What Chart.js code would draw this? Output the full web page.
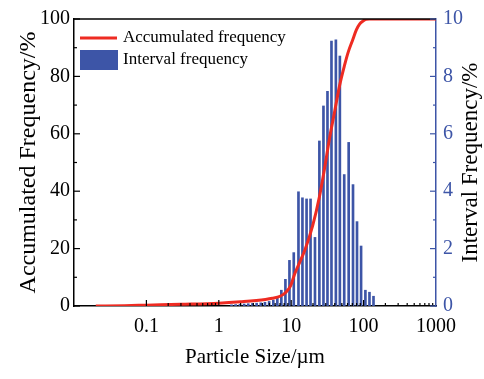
<!DOCTYPE html>
<html>
<head>
<meta charset="utf-8">
<script src="https://cdn.jsdelivr.net/npm/chart.js@4"></script>
<style>
  body { margin: 0; background: #fff; }
</style>
</head>
<body>
<canvas id="psdChart" width="484" height="379"></canvas>
<script>
// interval frequency bars (size in um, value in %)
const binSizes = [1.5, 1.71, 1.96, 2.24, 2.55, 2.92, 3.33, 3.8, 4.34, 4.96,
    5.66, 6.43, 7.31, 8.32, 9.46, 10.85, 12.6, 14.3, 16.3, 18.5, 21.3, 24.5,
    27.9, 31.7, 36.0, 41.4, 47.0, 54.0, 62.2, 71.4, 81.1, 92.3, 105.9, 120.5, 137];
const binFreq = [0.04, 0.05, 0.06, 0.07, 0.08, 0.09, 0.1, 0.11, 0.13, 0.16,
    0.2, 0.3, 0.55, 0.93, 1.59, 1.86, 3.98, 3.77, 3.73, 3.73, 2.39, 5.75,
    6.97, 7.48, 9.23, 9.27, 8.71, 4.58, 5.70, 4.23, 2.94, 2.09, 0.55, 0.48, 0.34];

// accumulated frequency curve
const cumSizes = [0.02, 0.05, 0.1, 0.3, 1, 2, 4.4, 5.5, 7, 8.3, 9.8, 11.1, 13, 15.6, 19.8,
    24.5, 28.7, 33.8, 39.7, 46.6, 54.7, 61, 71.4, 79.4, 88, 98.4, 108, 120, 200, 1000];
const cumFreq = [0, 0.1, 0.3, 0.6, 1.0, 1.5, 2.3, 2.7, 3.4, 4.6, 7, 11, 15, 19.8, 28,
    38, 47.5, 58.4, 67.6, 76.8, 84, 88.3, 93, 96.2, 98.2, 99.3, 99.85, 100, 100, 100];

const xTickLabels = [0.1, 1, 10, 100, 1000];

const RED = '#ee2b22';
const BLUE = '#3d55a7';
const FONT = 'Liberation Serif';

const ctx = document.getElementById('psdChart').getContext('2d');

// inward ticks, frame top line, legend and right title
const decorPlugin = {
    id: 'decor',
    afterDraw(chart) {
        const c = chart.ctx;
        const a = chart.chartArea;
        const sx = chart.scales.x, sy = chart.scales.y, sy1 = chart.scales.y1;
        c.save();
        c.lineWidth = 1.5;
        // top frame
        c.strokeStyle = '#000';
        c.beginPath();
        c.moveTo(a.left, a.top);
        c.lineTo(a.right, a.top);
        c.stroke();
        // x ticks
        c.lineWidth = 1.2;
        for (let d = -1; d <= 2; d++) {
            for (let m = 1; m <= 9; m++) {
                const px = sx.getPixelForValue(m * Math.pow(10, d));
                c.beginPath();
                c.moveTo(px, a.bottom);
                c.lineTo(px, a.bottom - (m === 1 ? 6 : 3));
                c.stroke();
            }
        }
        // left ticks
        for (let v = 0; v <= 100; v += 10) {
            const py = sy.getPixelForValue(v);
            c.beginPath();
            c.moveTo(a.left, py);
            c.lineTo(a.left + (v % 20 === 0 ? 6 : 3), py);
            c.stroke();
        }
        // right ticks
        c.strokeStyle = BLUE;
        for (let v = 0; v <= 10; v += 1) {
            const py = sy1.getPixelForValue(v);
            c.beginPath();
            c.moveTo(a.right, py);
            c.lineTo(a.right - (v % 2 === 0 ? 6 : 3), py);
            c.stroke();
        }
        // legend
        const ds = chart.data.datasets;
        c.font = '17px "' + FONT + '"';
        c.fillStyle = '#000';
        c.textBaseline = 'middle';
        c.strokeStyle = ds[0].borderColor;
        c.lineWidth = 3;
        c.beginPath();
        c.moveTo(a.left + 6, 38);
        c.lineTo(a.left + 43, 38);
        c.stroke();
        c.fillText(ds[0].label, a.left + 49, 38);
        c.fillStyle = ds[1].backgroundColor;
        c.fillRect(a.left + 6, 50, 38, 20);
        c.fillStyle = '#000';
        c.fillText(ds[1].label, a.left + 49, 60);
        // right axis title, reading upward
        c.translate(471, (a.top + a.bottom) / 2);
        c.rotate(-Math.PI / 2);
        c.textAlign = 'center';
        c.font = '23px "' + FONT + '"';
        c.fillText('Interval Frequency/%', 0, 0);
        c.restore();
    }
};

new Chart(ctx, {
    type: 'bar',
    data: {
        datasets: [{
            type: 'line',
            label: 'Accumulated frequency',
            data: cumSizes.map((s, i) => ({x: s, y: cumFreq[i]})),
            borderColor: RED,
            borderWidth: 3,
            pointRadius: 0,
            cubicInterpolationMode: 'monotone',
            yAxisID: 'y',
            order: 0
        }, {
            type: 'bar',
            label: 'Interval frequency',
            data: binSizes.map((s, i) => ({x: s, y: binFreq[i]})),
            backgroundColor: BLUE,
            barThickness: 2,
            yAxisID: 'y1',
            order: 1
        }]
    },
    options: {
        responsive: false,
        animation: false,
        layout: { padding: { top: 16 } },
        plugins: {
            legend: { display: false },
            tooltip: { enabled: false }
        },
        scales: {
            x: {
                type: 'logarithmic',
                min: 0.01,
                max: 1000,
                offset: false,
                grid: { display: false, drawTicks: false },
                border: { color: '#000', width: 1.5 },
                afterFit: s => { s.height = 73; },
                afterBuildTicks: s => { s.ticks = xTickLabels.map(v => ({value: v})); },
                ticks: {
                    autoSkip: false,
                    maxRotation: 0,
                    padding: 9,
                    color: '#000',
                    font: { family: FONT, size: 20 },
                    callback: v => String(v)
                },
                title: {
                    display: true,
                    text: 'Particle Size/\u00b5m',
                    color: '#000',
                    font: { family: FONT, size: 21 },
                    padding: { top: 0, bottom: 9 }
                }
            },
            y: {
                position: 'left',
                min: 0,
                max: 100,
                grid: { display: false, drawTicks: false },
                border: { color: '#000', width: 1.5 },
                afterFit: s => { s.width = 74; },
                ticks: {
                    stepSize: 20,
                    padding: 4,
                    color: '#000',
                    font: { family: FONT, size: 20 }
                },
                title: {
                    display: true,
                    text: 'Accumulated Frequency/%',
                    color: '#000',
                    font: { family: FONT, size: 24 },
                    padding: { top: 14, bottom: 0 }
                }
            },
            y1: {
                position: 'right',
                min: 0,
                max: 10,
                grid: { display: false, drawTicks: false },
                border: { color: BLUE, width: 1.5 },
                afterFit: s => { s.width = 48; },
                ticks: {
                    stepSize: 2,
                    padding: 7,
                    color: BLUE,
                    font: { family: FONT, size: 20 }
                }
            }
        }
    },
    plugins: [decorPlugin]
});
</script>
</body>
</html>
